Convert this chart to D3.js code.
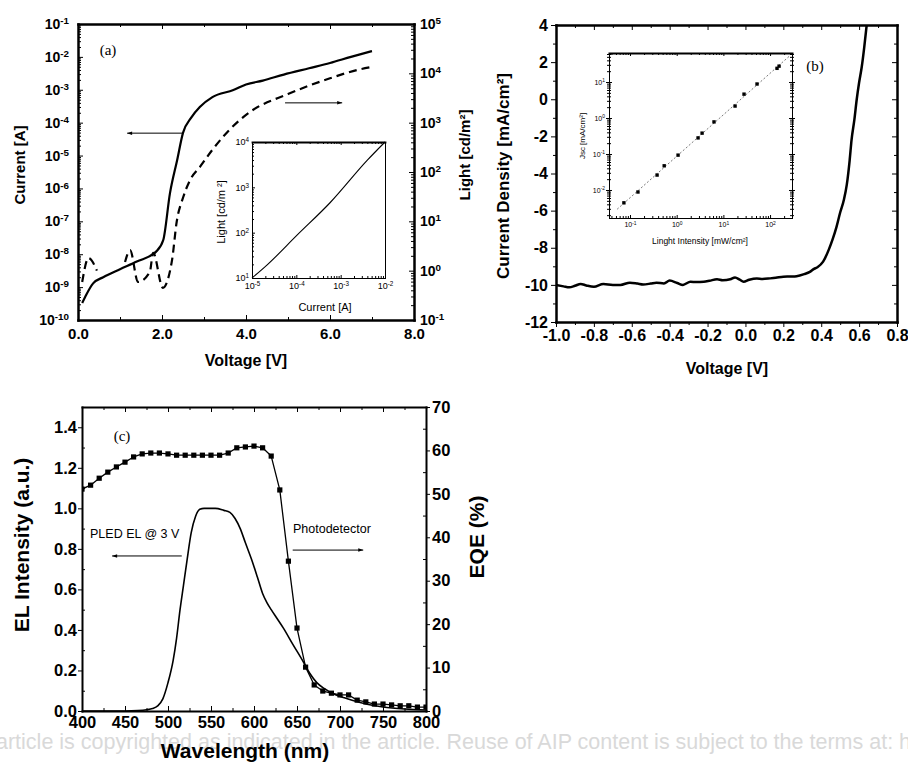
<!DOCTYPE html>
<html lang="en">
<head>
<meta charset="UTF-8">
<title>PLED and photodetector characteristics</title>
<script src="https://d3js.org/d3.v7.min.js"></script>
<style>
  body { margin: 0; background: #fff; }
  svg { display: block; }
  svg text { font-family: "Liberation Sans", Arial, sans-serif; fill: #000; }
  .ax path, .ax line { stroke: #000; }
  .ax path { stroke-linecap: square; }
  .serif { font-family: "Liberation Serif", "Times New Roman", serif; }
  .wm { fill: #d9d9d9; }
</style>
</head>
<body>
<svg width="908" height="766"></svg>
<script>
// ---- (a) PLED: current and luminance vs voltage ----
const ivVoltage = [0.1, 0.2, 0.36, 0.6, 1.0, 1.4, 1.86, 2.03, 2.19, 2.36, 2.5, 2.7, 2.9, 3.2, 3.7, 4.0, 4.4, 4.9, 5.5, 6.0, 6.5, 7.0];
const ivCurrent = [3.3e-10, 6e-10, 1.3e-9, 2e-9, 3.5e-9, 6e-9, 1.2e-8, 2.7e-8, 7.2e-7, 7.2e-6, 4.9e-5, 1.45e-4, 3e-4, 6e-4, 9.8e-4, 1.45e-3, 1.9e-3, 2.9e-3, 4.5e-3, 6.5e-3, 1e-2, 1.5e-2];
const lvVoltage = [0.1, 0.25, 0.45, 0.7, 1.12, 1.24, 1.43, 1.71, 1.79, 2.02, 2.24, 2.35, 2.5, 2.67, 2.9, 3.2, 3.6, 4.1, 5.0, 6.0, 6.7, 7.0];
const lvLight = [0.59, 1.8, 1.0, null, 1.5, 2.6, 0.59, 0.94, 2.3, 0.45, 1.66, 9.8, 30, 69, 126, 282, 708, 1660, 3800, 7940, 12000, 13500]; // null = below detection
const aXTicks = [0, 2, 4, 6, 8];
const aXLabels = ["0.0", "2.0", "4.0", "6.0", "8.0"];
const aXMinor = [1, 3, 5, 7];
const aCurExp = ["-10", "-9", "-8", "-7", "-6", "-5", "-4", "-3", "-2", "-1"];
const aLightExp = ["-1", "0", "1", "2", "3", "4", "5"];

// inset (a): luminance vs current
const insCurrent = [1e-5, 2.2e-5, 1.05e-4, 5.75e-4, 4e-3, 1e-2];
const insLight = [10, 19.5, 89, 457, 3980, 10000];
const insXExp = ["-5", "-4", "-3", "-2"];
const insYExp = ["1", "2", "3", "4"];

// ---- (b) photodetector J-V under light ----
const jvVoltage = [-1.0, -0.96, -0.93, -0.9, -0.87, -0.84, -0.8, -0.75, -0.7, -0.66, -0.61, -0.57, -0.54, -0.5, -0.47, -0.43, -0.4, -0.36, -0.33, -0.29, -0.26, -0.22, -0.19, -0.15, -0.12, -0.08, -0.055, -0.03, -0.01, 0.02, 0.06, 0.09, 0.13, 0.16, 0.2, 0.24, 0.27, 0.31, 0.34, 0.36, 0.38, 0.41, 0.44, 0.46, 0.48, 0.5, 0.52, 0.535, 0.55, 0.56, 0.575, 0.587, 0.6, 0.614, 0.627, 0.64];
const jvDensity = [-10.01, -10.08, -10.13, -10.05, -9.95, -10.03, -10.1, -9.95, -10.0, -10.0, -9.88, -9.93, -9.98, -9.93, -9.88, -9.92, -9.77, -9.9, -10.0, -9.83, -9.85, -9.83, -9.78, -9.7, -9.75, -9.7, -9.6, -9.72, -9.83, -9.72, -9.65, -9.68, -9.65, -9.62, -9.56, -9.55, -9.53, -9.42, -9.3, -9.15, -9.05, -8.75, -8.1, -7.55, -6.9, -6.1, -5.4, -4.6, -3.3, -2.2, -1.1, -0.04, 0.9, 1.75, 2.8, 4.0];
const bXTicks = [-1.0, -0.8, -0.6, -0.4, -0.2, 0.0, 0.2, 0.4, 0.6, 0.8];
const bXLabels = ["-1.0", "-0.8", "-0.6", "-0.4", "-0.2", "0.0", "0.2", "0.4", "0.6", "0.8"];
const bXMinor = [-0.9, -0.7, -0.5, -0.3, -0.1, 0.1, 0.3, 0.5, 0.7];
const bYTicks = [4, 2, 0, -2, -4, -6, -8, -10, -12];
const bYLabels = ["4", "2", "0", "-2", "-4", "-6", "-8", "-10", "-12"];
const bYMinor = [3, 1, -1, -3, -5, -7, -9, -11];

// inset (b): Jsc vs light intensity
const jscIntensity = [0.074, 0.148, 0.38, 0.54, 1.07, 2.87, 3.5, 6.3, 17.8, 27.7, 52.6, 141, 156];
const jscDensity = [0.0044, 0.0088, 0.026, 0.047, 0.093, 0.28, 0.38, 0.78, 2.15, 4.6, 8.8, 24, 27.6];
const bInsXExp = ["-1", "0", "1", "2"];
const bInsYExp = ["-2", "-1", "0", "1"];

// ---- (c) EL spectrum and EQE ----
const elWavelength = [400, 450, 465, 475, 482, 488, 494, 500, 506, 510, 514, 518, 522, 527, 532, 537, 542, 555, 565, 572, 578, 584, 590, 597, 604, 610, 615, 620, 627, 634, 645, 657, 665, 673, 682, 692, 705, 715, 730, 750, 775, 800];
const elIntensity = [0, 0, 0.002, 0.006, 0.012, 0.025, 0.06, 0.14, 0.25, 0.36, 0.5, 0.62, 0.74, 0.88, 0.96, 0.995, 1.0, 1.0, 0.99, 0.98, 0.95, 0.9, 0.83, 0.75, 0.66, 0.58, 0.535, 0.5, 0.455, 0.41, 0.33, 0.245, 0.185, 0.14, 0.11, 0.085, 0.065, 0.052, 0.035, 0.02, 0.01, 0.005];
const eqeWavelength = [400, 410, 420, 430, 440, 450, 460, 470, 480, 490, 500, 510, 520, 530, 540, 550, 560, 570, 580, 590, 600, 610, 620, 630, 640, 650, 660, 670, 680, 690, 700, 710, 720, 730, 740, 750, 760, 770, 780, 790, 800];
const eqeValues = [51.1, 52.0, 53.6, 55.0, 56.2, 57.3, 58.5, 59.2, 59.4, 59.4, 59.2, 58.9, 58.9, 58.9, 58.9, 58.9, 58.9, 59.4, 60.6, 60.8, 61.0, 60.6, 58.7, 50.9, 34.5, 19.1, 10.1, 6.0, 4.6, 4.1, 3.7, 3.7, 2.5, 2.1, 1.6, 1.6, 1.4, 1.2, 1.2, 0.9, 0.9];
const cXTicks = [400, 450, 500, 550, 600, 650, 700, 750, 800];
const cXMinor = [425, 475, 525, 575, 625, 675, 725, 775];
const cYTicks = [0, 0.2, 0.4, 0.6, 0.8, 1.0, 1.2, 1.4];
const cYLabels = ["0.0", "0.2", "0.4", "0.6", "0.8", "1.0", "1.2", "1.4"];
const cYMinor = [0.1, 0.3, 0.5, 0.7, 0.9, 1.1, 1.3];
const cY2Ticks = [0, 10, 20, 30, 40, 50, 60, 70];
const cY2Minor = [5, 15, 25, 35, 45, 55, 65];

const svg = d3.select("svg");
const defs = svg.append("defs");
defs.append("marker").attr("id", "head").attr("viewBox", "0 0 10 10")
    .attr("refX", 10).attr("refY", 5).attr("markerWidth", 7).attr("markerHeight", 5)
    .attr("markerUnits", "userSpaceOnUse").attr("orient", "auto")
    .append("path").attr("d", "M0,1.5L10,5L0,8.5Z").attr("fill", "#000");

function clipRect(id, x0, y0, x1, y1) {
    defs.append("clipPath").attr("id", id).append("rect")
        .attr("x", x0).attr("y", y0).attr("width", x1 - x0).attr("height", y1 - y0);
    return `url(#${id})`;
}

const pow10 = e => Math.pow(10, +e);

// 2..9 x decade positions inside the scale domain
function logMinor(scale) {
    const [lo, hi] = scale.domain(), out = [];
    for (let e = Math.floor(Math.log10(lo)); e <= Math.ceil(Math.log10(hi)); e++)
        for (let k = 2; k < 10; k++) {
            const v = k * Math.pow(10, e);
            if (v > lo && v < hi) out.push(v);
        }
    return out;
}

function drawAxis(g, orient, scale, at, o) {
    const gen = { left: d3.axisLeft, right: d3.axisRight, top: d3.axisTop, bottom: d3.axisBottom }[orient];
    const horiz = orient === "top" || orient === "bottom";
    const a = g.append("g").attr("class", "ax")
        .attr("transform", horiz ? `translate(0,${at})` : `translate(${at},0)`);
    const minorSizes = o.minor ? (o.cross ? [o.minorSize, -o.minorSize] : [o.minorSize]) : [];
    minorSizes.forEach(s => {
        a.append("g").call(gen(scale).tickValues(o.minor).tickSize(s).tickFormat(""))
            .call(m => { m.select(".domain").remove(); m.selectAll("line").attr("stroke-width", o.tw || 1); });
    });
    const m = a.append("g").call(gen(scale).tickValues(o.ticks || []).tickSizeInner(o.size || 0)
        .tickSizeOuter(0).tickPadding(o.pad ?? 3).tickFormat(""));
    if (o.cross && o.ticks) {
        a.append("g").call(gen(scale).tickValues(o.ticks).tickSize(-(o.size || 0)).tickFormat(""))
            .call(c => { c.select(".domain").remove(); c.selectAll("line").attr("stroke-width", o.tw || 1); });
    }
    m.select(".domain").attr("stroke-width", o.lw);
    m.selectAll(".tick line").attr("stroke-width", o.tw || 1);
    m.selectAll(".tick text").each(function (d, i) {
        const t = d3.select(this).attr("font-size", o.fs).attr("font-weight", o.weight || "bold");
        if (o.exp) {
            t.text("10");
            t.append("tspan").attr("dy", "-0.5em").attr("font-size", "0.7em").text(o.exp[i]);
        } else if (o.labels) {
            t.text(o.labels[i]);
        }
    });
    return a;
}

function curve(g, xs, ys, sx, sy, o) {
    const pts = d3.zip(xs, ys);
    const line = d3.line().defined(d => d[1] != null)
        .x(d => sx(d[0])).y(d => sy(d[1])).curve(o.curve || d3.curveLinear);
    return g.append("path").datum(pts).attr("d", line).attr("fill", "none")
        .attr("stroke", o.color || "#000").attr("stroke-width", o.w)
        .attr("stroke-dasharray", o.dash || null).attr("stroke-linejoin", "round")
        .attr("clip-path", o.clip || null);
}

function label(g, x, y, txt, o) {
    const t = g.append("text").attr("x", x).attr("y", y).attr("font-size", o.fs)
        .attr("font-weight", o.bold ? "bold" : null).attr("text-anchor", o.anchor || "middle").text(txt);
    if (o.rot) t.attr("transform", `rotate(${o.rot},${x},${y})`);
    if (o.cls) t.attr("class", o.cls);
    return t;
}

function arrow(g, x1, y1, x2, y2) {
    g.append("line").attr("x1", x1).attr("y1", y1).attr("x2", x2).attr("y2", y2)
        .attr("stroke", "#000").attr("stroke-width", 1).attr("marker-end", "url(#head)");
}

// publisher watermark behind everything
label(svg, -4, 749, "article is copyrighted as indicated in the article. Reuse of AIP content is subject to the terms at: http://scitation.aip.org/termsconditions.", { fs: 21.5, anchor: "start", cls: "wm" });

// ================= (a) =================
const gA = svg.append("g");
const xA = d3.scaleLinear([0, 8], [78, 414]);
const yA = d3.scaleLog([1e-10, 1e-1], [320, 24]);
const yA2 = d3.scaleLog([1e-1, 1e5], [320, 24]);
const clipA = clipRect("clipA", 78, 24, 414, 320);

curve(gA, ivVoltage, ivCurrent, xA, yA, { w: 2.2, curve: d3.curveMonotoneX, clip: clipA });
curve(gA, lvVoltage, lvLight, xA, yA2, { w: 2.2, dash: "8,5", curve: d3.curveMonotoneX, clip: clipA });

drawAxis(gA, "bottom", xA, 320, { ticks: aXTicks, labels: aXLabels, minor: aXMinor, size: -5, minorSize: -3, lw: 2.5, fs: 15, pad: 8 });
drawAxis(gA, "top", xA, 24, { ticks: aXTicks, minor: aXMinor, size: -5, minorSize: -3, lw: 2.5 });
drawAxis(gA, "left", yA, 78, { ticks: aCurExp.map(pow10), exp: aCurExp, minor: logMinor(yA), size: -5, minorSize: -3, lw: 2.5, fs: 14, pad: 9 });
drawAxis(gA, "right", yA2, 414, { ticks: aLightExp.map(pow10), exp: aLightExp, minor: logMinor(yA2), size: -5, minorSize: -3, lw: 2.5, fs: 14, pad: 6 });

arrow(gA, xA(2.48), yA(4.8e-5), xA(1.17), yA(4.8e-5));
arrow(gA, xA(4.93), yA(4e-4), xA(6.29), yA(4e-4));
label(gA, 108, 55, "(a)", { fs: 15, cls: "serif" });

label(gA, 25, 165, "Current [A]", { fs: 15, bold: true, rot: -90 });
label(gA, 470, 155, "Light [cd/m²]", { fs: 15, bold: true, rot: -90 });
label(gA, 246, 366, "Voltage [V]", { fs: 16, bold: true });

// inset (a)
const xI = d3.scaleLog([1e-5, 1e-2], [252, 385]);
const yI = d3.scaleLog([1e1, 1e4], [278, 142]);
gA.append("rect").attr("x", 252).attr("y", 142).attr("width", 133).attr("height", 136).attr("fill", "#fff");
curve(gA, insCurrent, insLight, xI, yI, { w: 1.1, curve: d3.curveMonotoneX });
drawAxis(gA, "bottom", xI, 278, { ticks: insXExp.map(pow10), exp: insXExp, minor: logMinor(xI), size: -3, minorSize: -2, lw: 1, fs: 9, pad: 5, weight: "normal" });
drawAxis(gA, "top", xI, 142, { ticks: insXExp.map(pow10), minor: logMinor(xI), size: -3, minorSize: -2, lw: 1.8 });
drawAxis(gA, "left", yI, 252, { ticks: insYExp.map(pow10), exp: insYExp, minor: logMinor(yI), size: -3, minorSize: -2, lw: 1, fs: 9, pad: 3, weight: "normal" });
drawAxis(gA, "right", yI, 385, { ticks: [], lw: 1 });
label(gA, 325, 311, "Current [A]", { fs: 11 });
label(gA, 225, 212, "Light [cd/m ²]", { fs: 11, rot: -90 });

// ================= (b) =================
const gB = svg.append("g");
const xB = d3.scaleLinear([-1, 0.8], [556, 897]);
const yB = d3.scaleLinear([-12, 4], [322, 25]);
const clipB = clipRect("clipB", 556, 25, 897, 322);

curve(gB, jvVoltage, jvDensity, xB, yB, { w: 2.5, curve: d3.curveMonotoneX, clip: clipB });

drawAxis(gB, "bottom", xB, 322, { ticks: bXTicks, labels: bXLabels, minor: bXMinor, size: 5, minorSize: 3, lw: 2.5, fs: 16, pad: 3 });
drawAxis(gB, "top", xB, 25, { ticks: bXTicks, minor: bXMinor, size: -5, minorSize: -3, lw: 2.5 });
drawAxis(gB, "left", yB, 556, { ticks: bYTicks, labels: bYLabels, minor: bYMinor, size: 5, minorSize: 3, lw: 2.5, fs: 16, pad: 3 });
drawAxis(gB, "right", yB, 897, { ticks: bYTicks, minor: bYMinor, size: -5, minorSize: -3, lw: 2.5 });

label(gB, 509, 176, "Current Density [mA/cm²]", { fs: 17, bold: true, rot: -90 });
label(gB, 727, 374, "Voltage [V]", { fs: 16, bold: true });
label(gB, 815, 71, "(b)", { fs: 15, cls: "serif" });

// inset (b)
const xBI = d3.scaleLog([Math.pow(10, -1.45), Math.pow(10, 2.47)], [609, 792]);
const yBI = d3.scaleLog([Math.pow(10, -2.778), Math.pow(10, 1.806)], [218, 53]);
const clipBI = clipRect("clipBI", 609, 53, 792, 218);
gB.append("rect").attr("x", 609).attr("y", 53).attr("width", 183).attr("height", 165).attr("fill", "#fff");

// least-squares line in log-log space through the Jsc points
const lx = jscIntensity.map(Math.log10), ly = jscDensity.map(Math.log10);
const mx = d3.mean(lx), my = d3.mean(ly);
const slope = d3.sum(lx.map((v, i) => (v - mx) * (ly[i] - my))) / d3.sum(lx.map(v => (v - mx) ** 2));
const fitEnds = [0.053, 268];
curve(gB, fitEnds, fitEnds.map(v => Math.pow(10, my + slope * (Math.log10(v) - mx))), xBI, yBI,
    { w: 0.8, dash: "2,2", color: "#555", clip: clipBI });
gB.selectAll("rect.jsc").data(d3.zip(jscIntensity, jscDensity)).join("rect").attr("class", "jsc")
    .attr("x", d => xBI(d[0]) - 1.7).attr("y", d => yBI(d[1]) - 1.7)
    .attr("width", 3.4).attr("height", 3.4).attr("fill", "#000");

drawAxis(gB, "bottom", xBI, 218, { ticks: bInsXExp.map(pow10), exp: bInsXExp, minor: logMinor(xBI), size: -3, minorSize: -2, lw: 1, fs: 7, pad: 4, weight: "normal" });
drawAxis(gB, "top", xBI, 53, { ticks: bInsXExp.map(pow10), minor: logMinor(xBI), size: -3, minorSize: -2, lw: 2 });
drawAxis(gB, "left", yBI, 609, { ticks: bInsYExp.map(pow10), exp: bInsYExp, minor: logMinor(yBI), size: -3, minorSize: -2, cross: true, lw: 1, fs: 7, pad: 4, weight: "normal" });
drawAxis(gB, "right", yBI, 792, { ticks: bInsYExp.map(pow10), minor: logMinor(yBI), size: -3, minorSize: -2, cross: true, lw: 1 });
label(gB, 585, 136, "Jsc [mA/cm²]", { fs: 8, rot: -90 });
label(gB, 700, 244, "Linght Intensity [mW/cm²]", { fs: 8.5 });

// ================= (c) =================
const gC = svg.append("g");
const xC = d3.scaleLinear([400, 800], [82, 426]);
const yC = d3.scaleLinear([0, 1.5], [711, 407]);
const yC2 = d3.scaleLinear([0, 70], [711, 407]);
const clipC = clipRect("clipC", 82, 407, 426, 711);

curve(gC, elWavelength, elIntensity, xC, yC, { w: 1.6, curve: d3.curveMonotoneX, clip: clipC });
curve(gC, eqeWavelength, eqeValues, xC, yC2, { w: 1.3, clip: clipC });
gC.append("g").attr("clip-path", clipC).selectAll("rect").data(d3.zip(eqeWavelength, eqeValues)).join("rect")
    .attr("x", d => xC(d[0]) - 2.6).attr("y", d => yC2(d[1]) - 2.6)
    .attr("width", 5.2).attr("height", 5.2).attr("fill", "#000");

drawAxis(gC, "bottom", xC, 711, { ticks: cXTicks, labels: cXTicks.map(String), minor: cXMinor, size: -5, minorSize: -3, lw: 2, fs: 16.5, pad: 5 });
drawAxis(gC, "top", xC, 407, { ticks: cXTicks, minor: cXMinor, size: -5, minorSize: -3, lw: 2 });
drawAxis(gC, "left", yC, 82, { ticks: cYTicks, labels: cYLabels, minor: cYMinor, size: 4, minorSize: -3, lw: 2, fs: 16.5, pad: 1 });
drawAxis(gC, "right", yC2, 426, { ticks: cY2Ticks, labels: cY2Ticks.map(String), minor: cY2Minor, size: 4, minorSize: -3, lw: 2, fs: 16.5, pad: 2 });

label(gC, 122, 441, "(c)", { fs: 15, cls: "serif" });
label(gC, 90, 538, "PLED EL @ 3 V", { fs: 12.5, anchor: "start" });
label(gC, 293, 533, "Photodetector", { fs: 12.5, anchor: "start" });
arrow(gC, xC(516), yC(0.765), xC(435), yC(0.765));
arrow(gC, xC(645), yC(0.794), xC(727), yC(0.794));

label(gC, 29, 545, "EL Intensity (a.u.)", { fs: 21, bold: true, rot: -90 });
label(gC, 484, 537, "EQE (%)", { fs: 21, bold: true, rot: -90 });
label(gC, 245, 758, "Wavelength (nm)", { fs: 21, bold: true });
</script>
</body>
</html>
